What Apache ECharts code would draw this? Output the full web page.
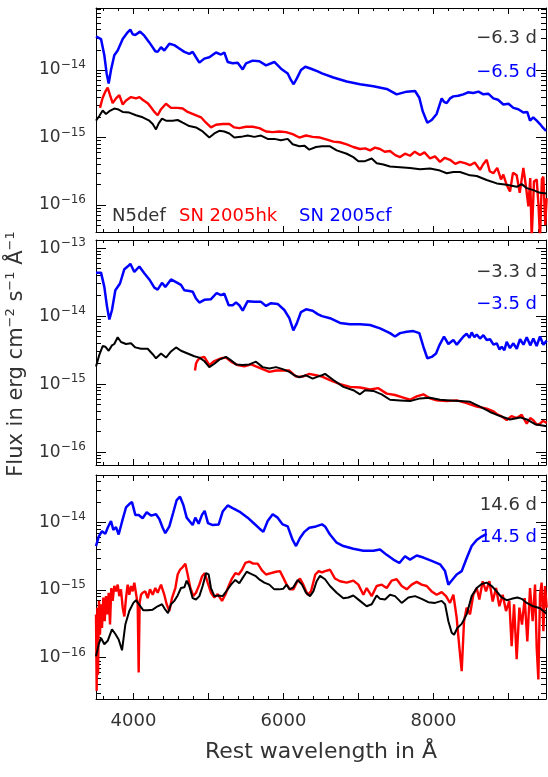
<!DOCTYPE html>
<html>
<head>
<meta charset="utf-8">
<script src="https://cdn.jsdelivr.net/npm/echarts@6/dist/echarts.min.js"></script>
<style>html,body{margin:0;padding:0;background:#fff}#main{width:548px;height:777px}</style>
</head>
<body>
<div id="main"></div>
<script>
/*
 * spectra, [rest wavelength (A), log10 flux (erg cm-2 s-1 A-1)]
 */
// top panel: -6.3 d / -6.5 d
var p1Blue = [[3500,-13.50],[3567,-13.54],[3611,-13.78],[3642,-14.05],[3669,-14.20],[3700,-14.00],[3744,-13.78],[3789,-13.71],[3856,-13.54],[3922,-13.44],[3958,-13.40],[3989,-13.47],[4024,-13.48],[4087,-13.43],[4144,-13.49],[4211,-13.59],[4291,-13.72],[4322,-13.73],[4367,-13.66],[4411,-13.71],[4478,-13.61],[4544,-13.63],[4611,-13.68],[4678,-13.73],[4744,-13.76],[4789,-13.73],[4833,-13.81],[4878,-13.89],[4944,-13.83],[5011,-13.81],[5100,-13.74],[5167,-13.77],[5211,-13.74],[5256,-13.88],[5322,-13.90],[5389,-13.89],[5456,-13.99],[5500,-13.90],[5589,-13.86],[5678,-13.87],[5767,-13.93],[5878,-13.88],[5967,-13.98],[6056,-14.05],[6100,-14.15],[6135,-14.21],[6180,-14.12],[6233,-14.00],[6291,-13.95],[6367,-13.98],[6456,-14.02],[6513,-14.05],[6665,-14.11],[6843,-14.17],[7020,-14.21],[7198,-14.24],[7376,-14.28],[7509,-14.36],[7643,-14.32],[7754,-14.31],[7811,-14.41],[7856,-14.61],[7918,-14.78],[7976,-14.74],[8042,-14.65],[8109,-14.42],[8140,-14.47],[8176,-14.49],[8220,-14.42],[8265,-14.39],[8330,-14.38],[8398,-14.36],[8460,-14.33],[8531,-14.34],[8600,-14.32],[8665,-14.36],[8730,-14.35],[8798,-14.42],[8860,-14.44],[8931,-14.51],[9000,-14.50],[9065,-14.56],[9130,-14.58],[9198,-14.63],[9250,-14.62],[9287,-14.75],[9330,-14.70],[9376,-14.75],[9420,-14.80],[9456,-14.85],[9500,-14.90]];
var p1Red = [[3553,-14.56],[3589,-14.41],[3624,-14.32],[3656,-14.26],[3687,-14.37],[3722,-14.49],[3767,-14.42],[3811,-14.37],[3856,-14.51],[3900,-14.45],[3967,-14.40],[4033,-14.42],[4080,-14.40],[4122,-14.44],[4189,-14.49],[4233,-14.55],[4278,-14.62],[4322,-14.67],[4367,-14.58],[4433,-14.50],[4500,-14.56],[4589,-14.56],[4656,-14.57],[4722,-14.62],[4811,-14.66],[4900,-14.70],[4967,-14.78],[5033,-14.85],[5100,-14.81],[5189,-14.80],[5278,-14.80],[5344,-14.85],[5411,-14.86],[5500,-14.84],[5589,-14.84],[5678,-14.86],[5767,-14.91],[5856,-14.92],[5944,-14.91],[6033,-14.92],[6122,-14.95],[6211,-15.00],[6300,-14.97],[6389,-14.99],[6487,-15.00],[6580,-15.03],[6665,-15.06],[6750,-15.07],[6843,-15.10],[6930,-15.14],[7020,-15.17],[7090,-15.16],[7154,-15.19],[7220,-15.15],[7287,-15.17],[7350,-15.21],[7420,-15.20],[7490,-15.26],[7554,-15.29],[7620,-15.24],[7687,-15.27],[7750,-15.21],[7820,-15.26],[7880,-15.22],[7954,-15.31],[8020,-15.28],[8087,-15.36],[8150,-15.30],[8220,-15.33],[8290,-15.39],[8354,-15.36],[8420,-15.38],[8487,-15.41],[8550,-15.37],[8620,-15.48],[8660,-15.40],[8709,-15.33],[8750,-15.50],[8798,-15.53],[8850,-15.45],[8900,-15.62],[8931,-15.55],[8975,-15.70],[9020,-15.80],[9060,-15.52],[9109,-15.56],[9150,-15.82],[9198,-15.45],[9230,-15.70],[9265,-16.02],[9290,-15.60],[9309,-16.50],[9340,-15.65],[9376,-15.62],[9400,-16.00],[9420,-16.50],[9445,-15.62],[9465,-15.58],[9490,-16.30],[9509,-15.90]];
var p1Black = [[3500,-14.75],[3544,-14.68],[3589,-14.60],[3633,-14.65],[3678,-14.61],[3744,-14.57],[3789,-14.58],[3856,-14.62],[3944,-14.63],[4033,-14.67],[4122,-14.70],[4211,-14.75],[4256,-14.80],[4300,-14.88],[4336,-14.79],[4380,-14.72],[4433,-14.75],[4522,-14.75],[4589,-14.74],[4656,-14.78],[4744,-14.83],[4833,-14.85],[4922,-14.91],[5011,-15.00],[5078,-14.94],[5144,-14.90],[5211,-14.91],[5278,-14.94],[5344,-15.00],[5433,-14.99],[5522,-14.97],[5611,-14.99],[5700,-14.97],[5789,-15.02],[5878,-15.02],[5967,-15.04],[6056,-15.02],[6122,-15.10],[6211,-15.13],[6278,-15.12],[6344,-15.18],[6433,-15.14],[6513,-15.13],[6620,-15.13],[6709,-15.19],[6843,-15.24],[6931,-15.29],[6998,-15.35],[7087,-15.35],[7176,-15.31],[7243,-15.38],[7331,-15.40],[7420,-15.43],[7554,-15.44],[7687,-15.45],[7820,-15.47],[7954,-15.46],[8087,-15.49],[8176,-15.53],[8265,-15.51],[8354,-15.51],[8487,-15.56],[8576,-15.57],[8709,-15.63],[8843,-15.68],[8976,-15.70],[9109,-15.73],[9176,-15.69],[9243,-15.75],[9331,-15.78],[9420,-15.82],[9509,-15.83]];

// middle panel: -3.3 d / -3.5 d
var p2Blue = [[3500,-13.36],[3567,-13.36],[3611,-13.57],[3647,-13.86],[3678,-14.05],[3713,-13.91],[3758,-13.62],[3820,-13.52],[3878,-13.31],[3922,-13.27],[3958,-13.23],[4011,-13.35],[4078,-13.27],[4144,-13.37],[4211,-13.46],[4278,-13.58],[4322,-13.61],[4380,-13.51],[4424,-13.57],[4500,-13.46],[4567,-13.50],[4633,-13.54],[4678,-13.62],[4744,-13.63],[4789,-13.64],[4833,-13.74],[4878,-13.80],[4944,-13.76],[5033,-13.75],[5109,-13.66],[5167,-13.69],[5211,-13.67],[5269,-13.84],[5322,-13.84],[5367,-13.80],[5411,-13.84],[5456,-13.92],[5522,-13.78],[5611,-13.79],[5700,-13.79],[5767,-13.85],[5833,-13.81],[5922,-13.82],[6011,-13.91],[6078,-14.03],[6131,-14.21],[6176,-14.11],[6233,-13.94],[6300,-13.90],[6389,-13.92],[6456,-13.97],[6513,-14.00],[6620,-14.03],[6754,-14.10],[6887,-14.12],[7020,-14.12],[7154,-14.13],[7287,-14.18],[7420,-14.25],[7487,-14.30],[7554,-14.25],[7643,-14.23],[7731,-14.22],[7811,-14.25],[7865,-14.45],[7918,-14.62],[7976,-14.60],[8034,-14.55],[8078,-14.43],[8140,-14.30],[8198,-14.41],[8265,-14.35],[8310,-14.42],[8354,-14.36],[8400,-14.30],[8442,-14.26],[8480,-14.32],[8509,-14.24],[8545,-14.31],[8576,-14.27],[8620,-14.33],[8665,-14.28],[8710,-14.35],[8754,-14.34],[8800,-14.42],[8843,-14.40],[8880,-14.49],[8909,-14.45],[8945,-14.50],[8976,-14.38],[9020,-14.47],[9065,-14.40],[9110,-14.48],[9154,-14.34],[9200,-14.42],[9243,-14.31],[9290,-14.43],[9331,-14.33],[9375,-14.44],[9420,-14.30],[9465,-14.42],[9509,-14.36]];
var p2Red = [[4820,-14.80],[4833,-14.70],[4850,-14.66],[4878,-14.62],[4944,-14.60],[5011,-14.72],[5078,-14.66],[5167,-14.62],[5233,-14.61],[5300,-14.67],[5389,-14.72],[5478,-14.74],[5567,-14.71],[5633,-14.74],[5722,-14.78],[5811,-14.82],[5900,-14.80],[5989,-14.80],[6078,-14.80],[6167,-14.89],[6256,-14.89],[6344,-14.85],[6433,-14.87],[6513,-14.89],[6620,-14.94],[6754,-15.00],[6887,-15.04],[7020,-15.05],[7154,-15.08],[7265,-15.06],[7376,-15.14],[7487,-15.16],[7576,-15.19],[7687,-15.23],[7776,-15.18],[7865,-15.15],[7954,-15.21],[8042,-15.24],[8176,-15.25],[8309,-15.24],[8442,-15.28],[8576,-15.33],[8709,-15.36],[8800,-15.40],[8843,-15.44],[8900,-15.47],[8976,-15.53],[9040,-15.47],[9109,-15.50],[9176,-15.45],[9210,-15.52],[9243,-15.58],[9290,-15.50],[9331,-15.53],[9380,-15.60],[9420,-15.58],[9460,-15.54],[9509,-15.57]];
var p2Black = [[3500,-14.74],[3544,-14.57],[3589,-14.44],[3624,-14.45],[3669,-14.51],[3713,-14.43],[3744,-14.41],[3789,-14.31],[3833,-14.38],[3900,-14.41],[3967,-14.40],[4024,-14.46],[4100,-14.48],[4189,-14.48],[4256,-14.56],[4300,-14.62],[4367,-14.55],[4433,-14.61],[4500,-14.52],[4567,-14.46],[4633,-14.51],[4722,-14.55],[4811,-14.59],[4878,-14.61],[4944,-14.66],[5011,-14.75],[5078,-14.70],[5144,-14.64],[5233,-14.60],[5300,-14.65],[5367,-14.71],[5456,-14.72],[5544,-14.71],[5633,-14.67],[5722,-14.75],[5811,-14.77],[5900,-14.75],[5989,-14.78],[6078,-14.82],[6144,-14.87],[6211,-14.90],[6300,-14.87],[6389,-14.92],[6456,-14.89],[6513,-14.87],[6554,-14.85],[6665,-14.94],[6798,-15.04],[6931,-15.09],[7020,-15.15],[7087,-15.09],[7198,-15.10],[7309,-15.15],[7420,-15.23],[7554,-15.24],[7687,-15.25],[7820,-15.21],[7954,-15.20],[8087,-15.23],[8220,-15.24],[8354,-15.25],[8487,-15.26],[8620,-15.33],[8754,-15.41],[8887,-15.47],[9020,-15.52],[9154,-15.49],[9243,-15.52],[9354,-15.59],[9509,-15.62]];

// bottom panel: 14.6 d / 14.5 d
var p3Blue = [[3500,-14.35],[3536,-14.21],[3580,-14.13],[3624,-14.17],[3656,-14.08],[3700,-13.98],[3731,-14.11],[3767,-14.07],[3802,-14.18],[3847,-13.99],[3900,-13.78],[3944,-13.73],[3980,-13.70],[4024,-13.89],[4069,-13.89],[4122,-13.94],[4176,-13.85],[4233,-13.90],[4300,-13.88],[4344,-13.95],[4389,-14.08],[4424,-14.16],[4478,-14.06],[4531,-13.85],[4576,-13.67],[4620,-13.62],[4664,-13.74],[4709,-13.93],[4753,-13.99],[4789,-14.04],[4824,-13.93],[4869,-14.02],[4913,-13.89],[4949,-13.83],[4993,-14.01],[5056,-14.04],[5136,-14.03],[5189,-13.84],[5256,-13.75],[5322,-13.79],[5411,-13.84],[5522,-13.93],[5611,-14.02],[5678,-14.09],[5731,-14.14],[5789,-13.98],[5856,-13.88],[5922,-13.93],[5989,-14.03],[6056,-14.06],[6122,-14.26],[6167,-14.35],[6220,-14.23],[6278,-14.14],[6344,-14.08],[6433,-14.06],[6513,-14.03],[6554,-14.06],[6620,-14.18],[6709,-14.30],[6798,-14.35],[6931,-14.39],[7065,-14.42],[7198,-14.42],[7287,-14.40],[7376,-14.48],[7465,-14.55],[7545,-14.60],[7620,-14.50],[7687,-14.55],[7776,-14.49],[7865,-14.52],[7976,-14.57],[8087,-14.62],[8154,-14.72],[8198,-14.92],[8243,-14.86],[8309,-14.77],[8376,-14.72],[8442,-14.53],[8509,-14.35],[8576,-14.26],[8642,-14.21],[8709,-14.17]];
var p3Red = [[3500,-15.36],[3509,-16.49],[3518,-15.26],[3527,-16.25],[3540,-15.16],[3553,-15.66],[3567,-15.21],[3580,-15.56],[3598,-15.11],[3616,-15.46],[3633,-15.09],[3651,-15.36],[3669,-15.04],[3687,-15.51],[3704,-14.97],[3722,-15.16],[3744,-14.94],[3767,-15.02],[3789,-14.92],[3811,-15.09],[3833,-14.99],[3856,-15.26],[3878,-15.39],[3900,-15.12],[3922,-14.92],[3944,-15.07],[3967,-14.94],[3989,-15.02],[4011,-14.89],[4033,-14.87],[4056,-15.21],[4069,-16.22],[4082,-15.19],[4100,-15.07],[4122,-15.04],[4158,-15.02],[4189,-15.12],[4220,-14.99],[4256,-15.07],[4291,-14.97],[4322,-15.04],[4367,-14.92],[4411,-15.07],[4442,-15.21],[4478,-15.31],[4513,-15.12],[4558,-14.97],[4589,-14.77],[4620,-14.70],[4656,-14.66],[4691,-14.61],[4722,-14.77],[4758,-14.97],[4798,-15.09],[4833,-15.04],[4878,-14.92],[4913,-14.80],[4949,-14.75],[4989,-14.89],[5033,-15.04],[5078,-15.11],[5122,-15.06],[5180,-15.16],[5224,-15.07],[5269,-14.94],[5313,-14.83],[5358,-14.75],[5402,-14.77],[5447,-14.70],[5491,-14.60],[5544,-14.58],[5598,-14.61],[5656,-14.61],[5713,-14.71],[5767,-14.77],[5833,-14.75],[5900,-14.73],[5953,-14.72],[5998,-14.82],[6042,-14.92],[6087,-14.99],[6131,-14.99],[6176,-14.89],[6220,-14.83],[6264,-14.92],[6322,-15.07],[6367,-15.02],[6424,-14.77],[6469,-14.72],[6513,-14.74],[6554,-14.72],[6620,-14.70],[6687,-14.83],[6754,-14.87],[6843,-14.89],[6931,-14.86],[6998,-14.92],[7065,-15.07],[7109,-14.97],[7176,-15.09],[7242,-14.94],[7309,-14.92],[7376,-14.97],[7442,-14.86],[7509,-14.84],[7576,-14.94],[7643,-14.99],[7709,-14.92],[7776,-14.88],[7842,-14.92],[7909,-14.94],[7976,-15.02],[8042,-15.07],[8109,-15.03],[8167,-15.09],[8220,-15.19],[8265,-15.07],[8309,-15.41],[8345,-15.85],[8376,-16.20],[8407,-15.46],[8442,-15.26],[8487,-15.36],[8531,-15.07],[8576,-14.97],[8611,-15.14],[8656,-14.87],[8700,-15.02],[8745,-14.87],[8789,-15.17],[8834,-14.97],[8878,-15.24],[8922,-15.07],[8967,-15.31],[9011,-15.16],[9042,-15.83],[9074,-15.21],[9109,-16.02],[9145,-15.26],[9180,-15.51],[9216,-15.12],[9251,-15.76],[9287,-14.97],[9322,-15.46],[9354,-14.92],[9376,-15.85],[9398,-16.32],[9420,-15.07],[9442,-14.89],[9465,-15.61],[9487,-14.94],[9509,-15.26]];
var p3Black = [[3500,-15.98],[3536,-15.80],[3567,-15.71],[3611,-15.80],[3656,-15.75],[3713,-15.58],[3758,-15.65],[3802,-15.73],[3847,-15.89],[3891,-15.51],[3944,-15.31],[3998,-15.19],[4033,-15.15],[4078,-15.22],[4131,-15.30],[4189,-15.30],[4256,-15.29],[4322,-15.24],[4380,-15.21],[4424,-15.29],[4460,-15.34],[4500,-15.21],[4544,-15.16],[4589,-15.08],[4633,-14.97],[4678,-14.96],[4709,-14.86],[4744,-14.94],[4789,-15.12],[4833,-15.14],[4878,-15.09],[4922,-14.94],[4967,-14.75],[5002,-14.77],[5033,-14.97],[5078,-15.09],[5136,-15.08],[5189,-15.09],[5242,-15.01],[5300,-14.92],[5358,-14.85],[5411,-14.90],[5456,-14.82],[5509,-14.73],[5567,-14.76],[5624,-14.79],[5687,-14.85],[5744,-14.89],[5811,-14.92],[5878,-14.99],[5944,-14.99],[5998,-14.98],[6042,-14.92],[6078,-14.99],[6131,-14.96],[6189,-14.85],[6247,-14.92],[6300,-15.04],[6353,-15.09],[6398,-15.02],[6442,-14.87],[6487,-14.79],[6554,-14.84],[6620,-14.94],[6709,-15.04],[6798,-15.12],[6865,-15.11],[6931,-15.08],[7020,-15.16],[7109,-15.24],[7176,-15.21],[7242,-15.08],[7287,-15.13],[7354,-15.14],[7420,-15.07],[7487,-15.09],[7576,-15.19],[7665,-15.11],[7754,-15.09],[7842,-15.13],[7931,-15.18],[8020,-15.19],[8109,-15.16],[8154,-15.21],[8198,-15.46],[8243,-15.63],[8274,-15.66],[8318,-15.56],[8376,-15.50],[8442,-15.36],[8509,-15.09],[8576,-14.97],[8642,-14.91],[8709,-14.89],[8776,-14.94],[8842,-15.02],[8909,-15.11],[8976,-15.15],[9042,-15.13],[9118,-15.11],[9176,-15.13],[9243,-15.19],[9331,-15.24],[9420,-15.27],[9509,-15.35]];

var seriesNames = ['SN 2005cf', 'SN 2005hk', 'N5def'];
var epochLabels = [['−6.3 d', '−6.5 d'], ['−3.3 d', '−3.5 d'], ['14.6 d', '14.5 d']];
var waveLabels = [4000, 6000, 8000];
var waveMajor = [4000, 5000, 6000, 7000, 8000, 9000];
var waveMinor = [3600, 3800, 4200, 4400, 4600, 4800, 5200, 5400, 5600, 5800, 6200, 6400, 6600, 6800,
                 7200, 7400, 7600, 7800, 8200, 8400, 8600, 8800, 9200, 9400];

var FONT = 'DejaVu Sans';
var TXT = '#333';
var colors = ['#0000ff', '#ff0000', '#000000'];
var widths = [2.5, 2.4, 2];

// panel layout, y range in log10 flux
var panels = [
  {top: 8, height: 224, logMin: -16.40, logMax: -13.08, curves: [p1Blue, p1Red, p1Black], labY: [38, 72]},
  {top: 240, height: 225, logMin: -16.19, logMax: -12.88, curves: [p2Blue, p2Red, p2Black], labY: [272, 304]},
  {top: 475, height: 224, logMin: -16.61, logMax: -13.30, curves: [p3Blue, p3Red, p3Black], labY: [505, 537]}
];

var toFlux = function (arr) {
  return arr.map(function (p) { return [p[0], Math.pow(10, p[1])]; });
};

var decadeTicks = function (lo, hi, minor) {
  var res = [];
  for (var d = Math.floor(lo); d <= Math.ceil(hi); d++) {
    if (!minor) {
      if (d >= lo && d <= hi) res.push(Math.pow(10, d));
    } else {
      for (var k = 2; k <= 9; k++) {
        var v = Math.log10(k) + d;
        if (v >= lo && v <= hi) res.push(k * Math.pow(10, d));
      }
    }
  }
  return res;
};

var xAx = function (g, pos, major, labels) {
  return {
    type: 'value', gridIndex: g, position: pos, min: 3500, max: 9500,
    axisLine: {show: major, lineStyle: {color: '#000', width: 1}},
    axisTick: {show: true, inside: true, length: major ? 6 : 3, customValues: major ? waveMajor : waveMinor,
               lineStyle: {color: '#000', width: 1}},
    axisLabel: {show: labels, customValues: waveLabels, margin: 13, color: TXT, fontSize: 18, fontFamily: FONT,
                formatter: function (v) { return String(v); }},
    splitLine: {show: false},
    name: labels ? 'Rest wavelength in Å' : '',
    nameLocation: 'middle', nameGap: 42,
    nameTextStyle: {color: TXT, fontSize: 22, fontFamily: FONT}
  };
};

var yAx = function (g, pos, major, p, labels) {
  return {
    type: 'log', logBase: 10, gridIndex: g, position: pos,
    min: Math.pow(10, p.logMin), max: Math.pow(10, p.logMax),
    axisLine: {show: major, lineStyle: {color: '#000', width: 1}},
    axisTick: {show: true, inside: true, length: major ? 10 : 5,
               customValues: decadeTicks(p.logMin, p.logMax, !major), lineStyle: {color: '#000', width: 1}},
    axisLabel: {
      show: labels, customValues: decadeTicks(p.logMin, p.logMax, false), margin: 10,
      formatter: function (v) {
        var e = Math.round(Math.log10(v));
        return '{b|10}{e|' + (e < 0 ? '−' : '') + Math.abs(e) + '}';
      },
      rich: {
        b: {fontSize: 17, fontFamily: FONT, color: TXT},
        e: {fontSize: 12, fontFamily: FONT, color: TXT, padding: [0, 0, 10, 0]}
      }
    },
    splitLine: {show: false}
  };
};

var grid = [], xAxis = [], yAxis = [], series = [], graphic = [];
panels.forEach(function (p, i) {
  grid.push({left: 96, top: p.top, width: 450, height: p.height});
  xAxis.push(xAx(i, 'bottom', true, i === 2));
  xAxis.push(xAx(i, 'bottom', false, false));
  xAxis.push(xAx(i, 'top', true, false));
  xAxis.push(xAx(i, 'top', false, false));
  yAxis.push(yAx(i, 'left', true, p, true));
  yAxis.push(yAx(i, 'left', false, p, false));
  yAxis.push(yAx(i, 'right', true, p, false));
  yAxis.push(yAx(i, 'right', false, p, false));
  p.curves.forEach(function (c, j) {
    series.push({
      name: seriesNames[j], type: 'line', xAxisIndex: 4 * i, yAxisIndex: 4 * i,
      data: toFlux(c), showSymbol: false, symbol: 'none', clip: true,
      lineStyle: {color: colors[j], width: widths[j]}, z: 2 + j
    });
  });
  graphic.push({type: 'text', x: 537, y: p.labY[0], style: {text: epochLabels[i][0], fill: TXT,
    font: '18px ' + FONT, align: 'right', verticalAlign: 'middle'}, z: 10});
  graphic.push({type: 'text', x: 537, y: p.labY[1], style: {text: epochLabels[i][1], fill: colors[0],
    font: '18px ' + FONT, align: 'right', verticalAlign: 'middle'}, z: 10});
});

// panel legend as coloured words
var legendX = [112, 179, 299];
[2, 1, 0].forEach(function (j, k) {
  graphic.push({type: 'text', x: legendX[k], y: 216, style: {text: seriesNames[j], fill: j === 2 ? TXT : colors[j],
    font: '18px ' + FONT, align: 'left', verticalAlign: 'middle'}, z: 10});
});

// y title
graphic.push({
  type: 'text', x: 17, y: 354, rotation: Math.PI / 2,
  style: {
    text: 'Flux in erg cm{s|−2} s{s|−1} Å{s|−1}', fill: TXT, font: '21px ' + FONT,
    align: 'center', verticalAlign: 'middle',
    rich: {s: {fontSize: 13, fontFamily: FONT, fill: TXT, padding: [0, 0, 12, 0]}}
  }
});

var chart = echarts.init(document.getElementById('main'));
chart.setOption({
  backgroundColor: '#fff',
  animation: false,
  grid: grid,
  xAxis: xAxis,
  yAxis: yAxis,
  series: series,
  graphic: graphic
});
</script>
</body>
</html>
